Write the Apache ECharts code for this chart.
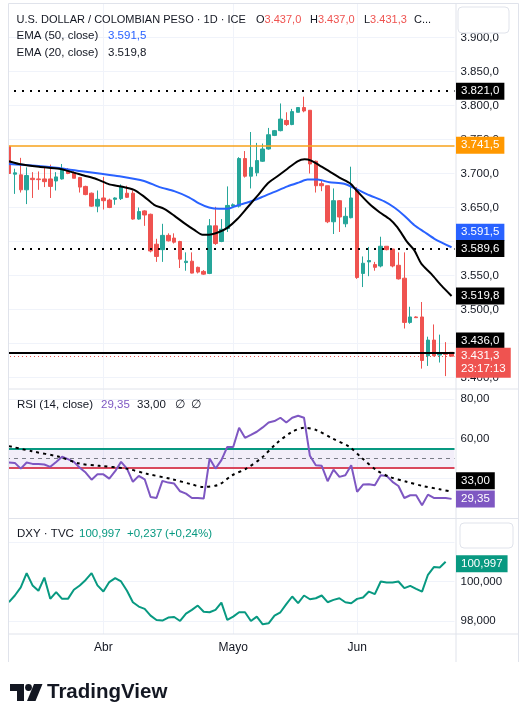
<!DOCTYPE html>
<html><head><meta charset="utf-8">
<script src="https://cdn.jsdelivr.net/npm/echarts@6.0.0/dist/echarts.min.js"></script>
<style>html,body{margin:0;padding:0;background:#fff}#c{width:528px;height:707px}</style>
</head><body><div id="c"></div>
<script>
// ---------- DATA ----------
const dates = ['2025-03-10','2025-03-11','2025-03-12','2025-03-13','2025-03-14','2025-03-17','2025-03-18','2025-03-19','2025-03-20','2025-03-21',
'2025-03-24','2025-03-25','2025-03-26','2025-03-27','2025-03-28','2025-03-31','2025-04-01','2025-04-02','2025-04-03','2025-04-04',
'2025-04-07','2025-04-08','2025-04-09','2025-04-10','2025-04-11','2025-04-14','2025-04-15','2025-04-16','2025-04-17','2025-04-18',
'2025-04-21','2025-04-22','2025-04-23','2025-04-24','2025-04-25','2025-04-28','2025-04-29','2025-04-30','2025-05-01','2025-05-02',
'2025-05-05','2025-05-06','2025-05-07','2025-05-08','2025-05-09','2025-05-12','2025-05-13','2025-05-14','2025-05-15','2025-05-16',
'2025-05-19','2025-05-20','2025-05-21','2025-05-22','2025-05-23','2025-05-27','2025-05-28','2025-05-29','2025-05-30','2025-06-02',
'2025-06-03','2025-06-04','2025-06-05','2025-06-06','2025-06-09','2025-06-10','2025-06-11','2025-06-12','2025-06-13','2025-06-16',
'2025-06-17','2025-06-18','2025-06-20','2025-06-23','2025-06-24','2025-06-25'];
const open  = [3740,3699,3698,3676,3693,3692,3692,3692,3689,3692, 3706,3701,3694,3681,3671,3652,3664,3661,3662,3663,
               3671,3671,3633,3645,3640,3596,3588,3609,3605,3600, 3569,3571,3562,3556,3553,3623,3600,3619,3652,3652,
               3722,3696,3701,3718,3736,3756,3763,3778,3772,3790, 3797,3793,3718,3685,3682,3629,3660,3626,3635,3676,
               3553,3570,3566,3564,3593,3589,3565,3546,3481,3489, 3489,3432,3455,3433,3436,3437];
const high  = [3745,3707,3723,3709,3702,3703,3708,3713,3702,3714, 3708,3703,3695,3682,3672,3675,3695,3663,3665,3684,
               3682,3675,3650,3646,3641,3604,3626,3612,3612,3601, 3584,3584,3563,3558,3633,3651,3633,3681,3656,3724,
               3733,3761,3745,3744,3767,3764,3803,3790,3795,3797, 3813,3793,3719,3689,3682,3678,3661,3650,3710,3680,
               3578,3592,3570,3607,3593,3589,3584,3584,3504,3490, 3511,3460,3478,3463,3452,3437];
const low   = [3696,3670,3672,3655,3664,3676,3680,3664,3675,3691, 3699,3693,3672,3668,3651,3643,3647,3649,3654,3661,
               3664,3632,3632,3623,3584,3570,3570,3600,3597,3561, 3557,3553,3553,3551,3552,3595,3599,3614,3650,3650,
               3694,3678,3696,3717,3735,3755,3762,3770,3771,3790, 3790,3700,3672,3674,3627,3611,3614,3621,3634,3545,
               3533,3549,3557,3562,3587,3562,3544,3472,3479,3488, 3413,3417,3431,3422,3402,3431.3];
const close = [3700,3701,3676,3697,3691,3691,3688,3681,3695,3706, 3700,3693,3680,3669,3652,3662,3660,3650,3664,3681,
               3665,3633,3644,3639,3586,3578,3609,3601,3599,3574, 3571,3553.5,3555,3552,3623,3597,3618,3653,3654,3722,
               3696,3709,3719,3736,3757,3763,3780,3772,3791,3797, 3792,3714,3682,3682,3629,3660,3636,3637,3664,3547,
               3568,3572,3562,3593,3588,3564,3545,3481,3489,3488, 3425,3455,3432,3435,3434,3431.3];
// EMA readings: [bar index, value]
const ema50Pts = [[0,3714],[3.4,3712],[8.5,3708],[10.7,3705],[12.7,3703],[15.3,3700],[18.7,3696],[22.9,3689],[25.5,3680],[28,3674],
  [30.5,3665],[32.2,3656],[33.9,3650],[35.6,3648],[37,3648],[38.7,3653],[40.7,3658],[42.8,3665],[45,3673],[47.2,3681],
  [49.2,3687],[50.6,3691],[52.3,3691],[54.3,3687],[56.8,3685],[58.9,3677],[61.1,3668],[63.6,3659],[65.3,3650],[67,3638],
  [68.7,3624],[70.4,3614],[72.1,3604],[75,3591.5]];
const ema20Pts = [[0,3718],[1.7,3714],[5.1,3710],[8.5,3707],[10.7,3702],[12.7,3697],[14.8,3692],[17,3684],[19,3681],[21.2,3676],
  [22.9,3666],[24.6,3654],[26.3,3648],[28,3638],[29.7,3627],[31.4,3617],[32.8,3610],[33.9,3610],[35.6,3614],[37,3620],
  [38.7,3633],[40.4,3650],[42.1,3667],[43.8,3685],[45.5,3696],[47.2,3707],[48.9,3718],[50.1,3721],[51.2,3719],[52.6,3712],
  [54.3,3703],[56,3694],[57.9,3685],[58.9,3675],[61.1,3655],[62.8,3643],[64.5,3633],[65.8,3621],[67.5,3599],[68.7,3587],
  [69.9,3567],[71.6,3552],[73.3,3535],[75,3519.8]];
const rsi = [47.8,47.6,44.7,47.8,47.1,47.1,46.8,45.6,48.1,50.7, 49.5,48.1,45.1,42.7,39.1,41.8,41.8,39.6,43.4,48.1,
  44.7,38.0,41.0,39.3,30.3,29.8,38.5,37.6,37.1,33.2, 32.0,29.8,29.8,29.5,49.8,44.7,49.0,55.7,55.7,65.4,
  60.3,61.8,63.4,65.6,68.1,68.8,70.5,68.1,70.5,71.5, 70.5,51.2,46.4,46.1,38.3,44.2,40.5,41.3,46.4,32.9,
  36.6,36.8,36.3,41.3,41.0,38.0,35.9,29.8,31.2,31.2, 26.1,31.5,29.8,29.8,29.8,29.35];
const rsiMaPts = [[0,56.1],[3.9,53.5],[8.5,50.7],[11.9,47.3],[15.3,46.1],[19.9,44.7],[23.2,42.2],[27.7,39.3],[31.1,36.6],[32.8,35.4],
  [35.6,36.6],[37.8,41.3],[40.2,44.7],[42.9,50.4],[45.3,57.4],[48,63.4],[50.1,65.4],[52.1,64.2],[54.8,60],[57.7,55.7],
  [59.9,49.8],[62.3,43.9],[64.5,40.5],[67.4,38],[70.1,35.9],[73,34.2],[75,33]];
const dxy = [98.95,99.29,99.70,100.42,99.80,99.53,100.20,99.12,99.46,99.12, 99.12,99.58,99.80,100.08,100.42,99.80,99.49,99.97,100.17,100.00,
  99.53,98.95,98.73,98.61,98.27,98.05,98.02,98.17,98.20,98.00, 98.37,98.56,98.78,98.47,98.44,98.56,98.93,98.05,98.22,98.44,
  98.44,98.00,98.22,97.83,97.88,98.27,98.44,98.85,99.24,98.90, 99.29,99.10,99.15,99.29,98.95,99.07,99.15,98.95,98.90,99.12,
  99.19,99.49,99.36,100.00,99.95,99.95,100.00,99.66,99.78,99.63, 99.49,100.34,100.73,100.71,100.997];
const dxyChange = [0.237, 0.24];
const dottedLevels = [3821, 3589.6];
const orangeLevel = [3741.5];
const supportLevel = [3436];
const rsiBands = [45, 50, 55];
const priceTicks = [3400,3450,3500,3550,3600,3650,3700,3750,3800,3850,3900];
const rsiTicks = [40,60,80];
const dxyTicks = [98,100,102];
const monthTicks = ['2025-04-01','2025-05-01','2025-06-02'];
const monthNames = ['Abr','Mayo','Jun'];
const countdown = ['23:17:13'];

// ---------- HELPERS ----------
function fmt(v, d) {
  const s = Math.abs(v).toFixed(d).split('.');
  const i = s[0].replace(/\B(?=(\d{3})+(?!\d))/g, '.');
  return (v < 0 ? '-' : '') + i + (s[1] ? ',' + s[1] : '');
}
const FONTCSS = "'Liberation Sans', Arial, sans-serif";
const DARK = '#131722', UP = '#26a69a', DOWN = '#ef5350', BLUE = '#2962ff', PURPLE = '#7e57c2', TEAL = '#089981';
const GRIDC = '#f0f3fa', BORDER = '#e0e3eb';
const N = dates.length, L = N - 1;
const monthIdx = monthTicks.map(d => dates.indexOf(d));
const GL = 6, GW = 448.5;

const chart = echarts.init(document.getElementById('c'), null, {renderer: 'canvas'});

function catAxis(g) { return {type: 'category', gridIndex: g, data: dates, show: false, boundaryGap: true, position: 'bottom'}; }
function valX(g, labels) {
  return {type: 'value', gridIndex: g, min: -0.5, max: N - 0.5, position: 'bottom',
    axisLine: {show: false}, axisTick: {show: false, customValues: monthIdx},
    axisLabel: {show: labels, customValues: monthIdx, formatter: v => monthNames[monthIdx.indexOf(v)] || '',
      margin: 8, color: DARK, fontSize: 12, fontFamily: FONTCSS},
    splitLine: {show: true, lineStyle: {color: GRIDC, width: 1}}};
}
function valY(g, min, max, ticks, dec) {
  return {type: 'value', gridIndex: g, position: 'right', min, max, scale: true,
    axisLine: {show: false}, axisTick: {show: false, customValues: ticks},
    axisLabel: {customValues: ticks, formatter: v => fmt(v, dec), margin: 6, color: DARK, fontSize: 11.5, fontFamily: FONTCSS, align: 'left'},
    splitLine: {show: true, lineStyle: {color: GRIDC, width: 1}}};
}

const candles = dates.map((d, i) => [open[i], close[i], low[i], high[i]]);
const dotStyle = {type: [2, 6], width: 2, color: '#000'};

const option = {
  animation: false,
  backgroundColor: '#fff',
  textStyle: {fontFamily: FONTCSS},
  grid: [
    {left: GL, width: GW, top: 3.5, height: 385},
    {left: GL, width: GW, top: 389, height: 129},
    {left: GL, width: GW, top: 518.5, height: 115.5}
  ],
  xAxis: [catAxis(0), valX(0, false), catAxis(1), valX(1, false), catAxis(2), valX(2, true)],
  yAxis: [
    valY(0, 3383.8, 3950, priceTicks, 1),
    valY(1, 19.65, 85.08, rsiTicks, 2),
    valY(2, 97.34, 103.19, dxyTicks, 3)
  ],
  series: [
    {type: 'candlestick', name: 'USDCOP', xAxisIndex: 0, yAxisIndex: 0, data: candles, barWidth: 4,
      itemStyle: {color: UP, color0: DOWN, borderColor: UP, borderColor0: DOWN, borderWidth: 1},
      markLine: {symbol: 'none', silent: true, label: {show: false}, animation: false,
        data: [
          ...dottedLevels.map(v => ({yAxis: v, lineStyle: dotStyle})),
          ...orangeLevel.map(v => ({yAxis: v, lineStyle: {type: 'solid', width: 1.5, color: '#f7a21b', opacity: 1}})),
          ...supportLevel.map(v => ({yAxis: v, lineStyle: {type: 'solid', width: 2, color: '#000'}})),
          {yAxis: close[L], lineStyle: {type: [1, 3], width: 1, color: DOWN}}
        ]}},
    {type: 'line', name: 'EMA50', xAxisIndex: 1, yAxisIndex: 0, data: ema50Pts, showSymbol: false, smooth: 0.25,
      lineStyle: {color: BLUE, width: 2}, z: 4},
    {type: 'line', name: 'EMA20', xAxisIndex: 1, yAxisIndex: 0, data: ema20Pts, showSymbol: false, smooth: 0.25,
      lineStyle: {color: '#000', width: 2}, z: 5},
    {type: 'line', name: 'RSI', xAxisIndex: 2, yAxisIndex: 1, data: rsi, showSymbol: false,
      lineStyle: {color: PURPLE, width: 2}, z: 5,
      markArea: {silent: true, itemStyle: {color: 'rgba(126,87,194,0.10)'}, data: [[{yAxis: rsiBands[0]}, {yAxis: rsiBands[2]}]]},
      markLine: {symbol: 'none', silent: true, label: {show: false},
        data: [
          {yAxis: rsiBands[2], lineStyle: {type: 'solid', width: 2, color: TEAL}},
          {yAxis: rsiBands[0], lineStyle: {type: 'solid', width: 2, color: '#d9485d'}},
          {yAxis: rsiBands[1], lineStyle: {type: [4, 4], width: 1, color: '#787b86'}}
        ]}},
    {type: 'line', name: 'RSI MA', xAxisIndex: 3, yAxisIndex: 1, data: rsiMaPts, showSymbol: false, smooth: 0.3,
      lineStyle: {color: '#000', width: 2, type: [3, 4]}, z: 6},
    {type: 'line', name: 'DXY', xAxisIndex: 4, yAxisIndex: 2, data: dxy, showSymbol: false,
      lineStyle: {color: TEAL, width: 2}, z: 5}
  ]
};
chart.setOption(option);

// ---------- OVERLAY TEXT / TAGS ----------
function txt(x, y, text, fill, size, weight) {
  return {type: 'text', x, y, z: 110, silent: true,
    style: {text, fill: fill || DARK, font: `${weight || 'normal'} ${size || 11.5}px ${FONTCSS}`, verticalAlign: 'middle', align: 'left'}};
}
function tag(yi, value, text, bg, dy) {
  const py = chart.convertToPixel({yAxisIndex: yi}, value) + (dy || 0);
  return {type: 'text', x: 456, y: py, z: 120, silent: true,
    style: {text, fill: '#fff', font: `11.5px ${FONTCSS}`, backgroundColor: bg, padding: [3, 5, 2, 5], verticalAlign: 'middle', align: 'left'}};
}
function hline(y, x1, x2) { return {type: 'line', z: 60, silent: true, shape: {x1, y1: y, x2, y2: y}, style: {stroke: BORDER, lineWidth: 1}}; }
function vline(x, y1, y2) { return {type: 'line', z: 60, silent: true, shape: {x1: x, y1, x2: x, y2}, style: {stroke: BORDER, lineWidth: 1}}; }

const ema50Last = ema50Pts[ema50Pts.length - 1][1];
const ema20Last = ema20Pts[ema20Pts.length - 1][1];
const rsiLast = rsi[L];
const rsiMaLast = rsiMaPts[rsiMaPts.length - 1][1];
const dxyLast = dxy[dxy.length - 1];
const pyClose = chart.convertToPixel({yAxisIndex: 0}, close[L]);
const richOHL = (lab, val) => ({text: '{a|' + lab + '}{b|' + val + '}', font: `11px ${FONTCSS}`, verticalAlign: 'middle',
  rich: {a: {fill: DARK, font: `11px ${FONTCSS}`}, b: {fill: DOWN, font: `11px ${FONTCSS}`}}});

const els = [
  {type: 'rect', z: 50, silent: true, shape: {x: 0, y: 0, width: 8.5, height: 640}, style: {fill: '#fff'}},
  hline(3.5, 8.5, 518.5), hline(389, 8.5, 518.5), hline(518.5, 8.5, 518.5), hline(634, 8.5, 518.5),
  vline(8.5, 3.5, 662), vline(456, 3.5, 662), vline(518.5, 3.5, 662),
  // headers
  txt(16.5, 19.5, 'U.S. DOLLAR / COLOMBIAN PESO · 1D · ICE', DARK, 11),
  {type: 'text', x: 256, y: 19.5, z: 110, style: richOHL('O', fmt(open[L], 1))},
  {type: 'text', x: 310, y: 19.5, z: 110, style: richOHL('H', fmt(high[L], 1))},
  {type: 'text', x: 364, y: 19.5, z: 110, style: richOHL('L', fmt(low[L], 1))},
  txt(414, 19.5, 'C...', DARK, 11),
  txt(16.5, 36, 'EMA (50, close)'), txt(108, 36, fmt(ema50Last, 1), BLUE),
  txt(16.5, 52.5, 'EMA (20, close)'), txt(108, 52.5, fmt(ema20Last, 1), DARK),
  txt(17, 405, 'RSI (14, close)'), txt(101, 405, fmt(rsiLast, 2), PURPLE), txt(137, 405, fmt(rsiMaLast, 2), DARK),
  txt(175, 405, '∅'), txt(191, 405, '∅'),
  txt(17, 533.5, 'DXY · TVC'), txt(79, 533.5, fmt(dxyLast, 3), TEAL),
  txt(127, 533.5, '+' + fmt(dxyChange[0], 3), TEAL), txt(165, 533.5, '(+' + fmt(dxyChange[1], 2) + '%)', TEAL),
  // currency buttons
  {type: 'rect', z: 115, silent: true, shape: {x: 458, y: 7, width: 51, height: 26, r: 4}, style: {fill: '#fff', stroke: BORDER, lineWidth: 1}},
  txt(464, 20.5, 'COP', DARK, 12.5),
  {type: 'rect', z: 115, silent: true, shape: {x: 460, y: 523, width: 53, height: 25, r: 4}, style: {fill: '#fff', stroke: BORDER, lineWidth: 1}},
  txt(467, 536, 'USD', DARK, 12.5),
  // price tags
  tag(0, dottedLevels[0], fmt(dottedLevels[0], 1), '#000'),
  tag(0, orangeLevel[0], fmt(orangeLevel[0], 1), '#ff9800'),
  tag(0, ema50Last, fmt(ema50Last, 1), BLUE, -15),
  tag(0, dottedLevels[1], fmt(dottedLevels[1], 1), '#000'),
  tag(0, ema20Last, fmt(ema20Last, 1), '#000'),
  tag(0, supportLevel[0], fmt(supportLevel[0], 1), '#000', -12),
  {type: 'text', x: 456, y: pyClose - 8.5, z: 121, silent: true,
    style: {text: fmt(close[L], 1) + '\n' + countdown[0], fill: '#fff', font: `11.5px ${FONTCSS}`, lineHeight: 13,
      backgroundColor: DOWN, padding: [2, 5, 2, 5], verticalAlign: 'top', align: 'left'}},
  tag(1, rsiMaLast, fmt(rsiMaLast, 2), '#000', -11),
  tag(1, rsiLast, fmt(rsiLast, 2), PURPLE),
  tag(2, dxyLast, fmt(dxyLast, 3), TEAL, 2),
  // logo
  {type: 'polygon', z: 110, silent: true, shape: {points: [[10, 684], [24, 684], [24, 701], [17, 701], [17, 691], [10, 691]]}, style: {fill: DARK}},
  {type: 'circle', z: 110, silent: true, shape: {cx: 28.5, cy: 687.5, r: 3.4}, style: {fill: DARK}},
  {type: 'polygon', z: 110, silent: true, shape: {points: [[34, 684], [42.5, 684], [35.5, 701], [27, 701]]}, style: {fill: DARK}},
  txt(47, 692.5, 'TradingView', DARK, 20.5, 'bold')
];
chart.setOption({graphic: {elements: els}});
</script>
</body></html>
